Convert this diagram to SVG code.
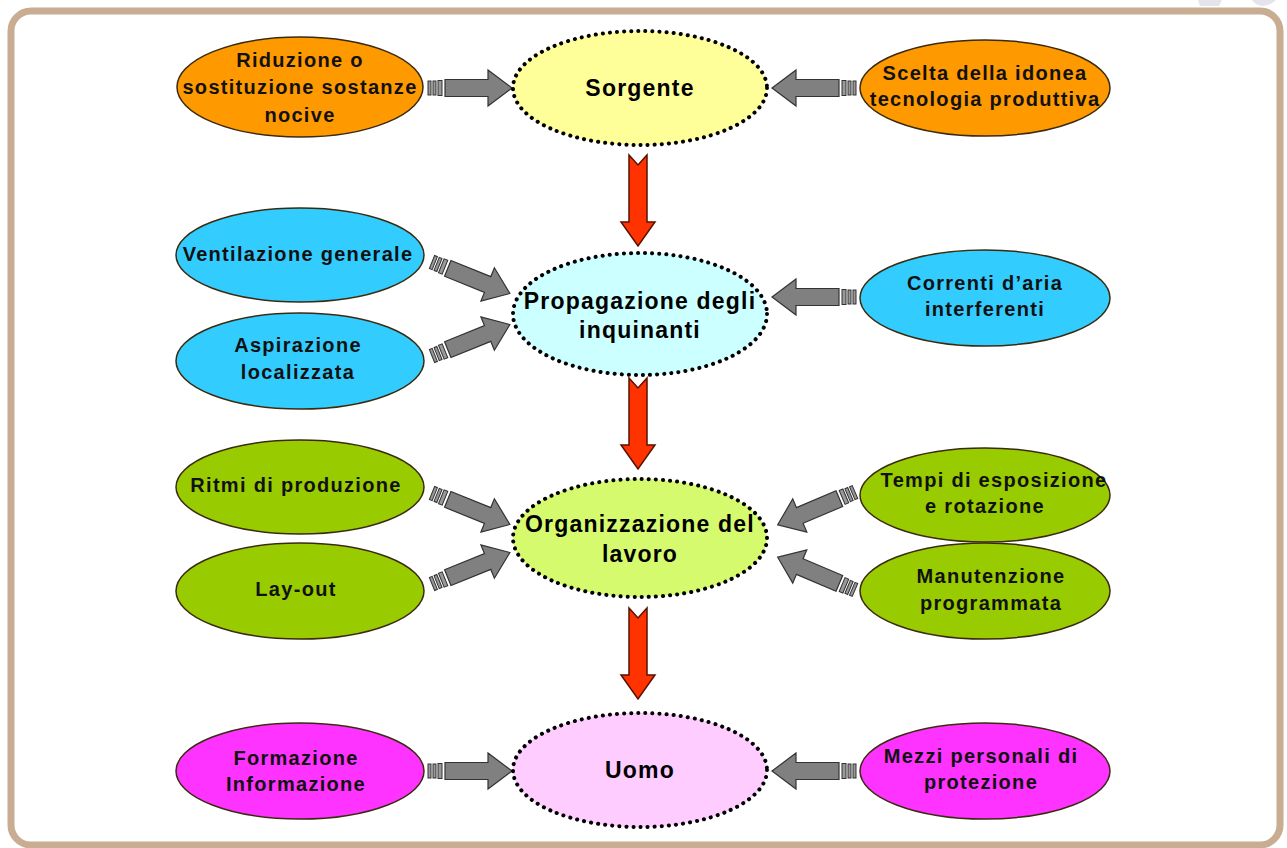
<svg xmlns="http://www.w3.org/2000/svg" xmlns:xlink="http://www.w3.org/1999/xlink" width="1287" height="848" viewBox="0 0 1287 848">
<style>
.t{font-family:"Liberation Sans",Arial,sans-serif;font-weight:bold;font-size:20px;letter-spacing:1.3px;fill:#111;text-anchor:middle}
.c{font-family:"Liberation Sans",Arial,sans-serif;font-weight:bold;font-size:23px;letter-spacing:1.2px;fill:#000;text-anchor:middle}
.side{stroke:#3a2a10;stroke-width:1.5}
.main{stroke:#000;stroke-width:4;stroke-dasharray:0.1 7;stroke-linecap:round}
.red{fill:#ff3300;stroke:#5a1000;stroke-width:1.5}
</style>
<defs>
<g id="garrow">
<rect x="0" y="-7" width="3" height="14" fill="#999" stroke="#333" stroke-width="1"/>
<rect x="5" y="-7" width="3" height="14" fill="#999" stroke="#333" stroke-width="1"/>
<rect x="10" y="-7.5" width="4" height="15" fill="#999" stroke="#333" stroke-width="1"/>
<path d="M17,-8.5 L60,-8.5 L60,-18 L84,0 L60,18 L60,8.5 L17,8.5 Z" fill="#808080" stroke="#333" stroke-width="1.2"/>
</g>
<path id="rarrow" d="M-9,0 L0,10 L9,0 L9,67 L17,67 L0,91 L-17,67 L-9,67 Z"/>
</defs>
<rect x="11" y="11" width="1269" height="834" rx="20" fill="#fff" stroke="#c8ad93" stroke-width="7"/>
<path d="M1198,0 L1222,0 L1219,6 L1200,6 Z M1252,0 L1276,0 Q1270,6 1262,6 Q1255,5 1252,0 Z" fill="#e4e4ea"/>

<g id="connectors">
<use xlink:href="#garrow" transform="translate(428,88)"/>
<use xlink:href="#garrow" transform="translate(856,88) rotate(180)"/>
<use xlink:href="#garrow" transform="translate(432,262) rotate(22)"/>
<use xlink:href="#garrow" transform="translate(432,356) rotate(-22)"/>
<use xlink:href="#garrow" transform="translate(856,297) rotate(180)"/>
<use xlink:href="#garrow" transform="translate(432,493) rotate(22)"/>
<use xlink:href="#garrow" transform="translate(432,584) rotate(-22)"/>
<use xlink:href="#garrow" transform="translate(855,492) rotate(157)"/>
<use xlink:href="#garrow" transform="translate(855,590) rotate(-157)"/>
<use xlink:href="#garrow" transform="translate(428,771)"/>
<use xlink:href="#garrow" transform="translate(856,771) rotate(180)"/>
<use xlink:href="#rarrow" class="red" transform="translate(638,155)"/>
<use xlink:href="#rarrow" class="red" transform="translate(638,378)"/>
<use xlink:href="#rarrow" class="red" transform="translate(638,608)"/>
</g>

<g id="sorgente"><ellipse cx="640" cy="88" rx="127" ry="57" fill="#ffff99" class="main"/><text class="c" x="640" y="96">Sorgente</text></g>
<g id="propagazione"><ellipse cx="640" cy="314" rx="127" ry="61" fill="#ccffff" class="main"/><text class="c" x="640" y="309">Propagazione degli</text><text class="c" x="640" y="338">inquinanti</text></g>
<g id="organizzazione"><ellipse cx="640" cy="538" rx="127" ry="59" fill="#d6fa6e" class="main"/><text class="c" x="640" y="532">Organizzazione del</text><text class="c" x="640" y="562">lavoro</text></g>
<g id="uomo"><ellipse cx="640" cy="770" rx="127" ry="57" fill="#ffccff" class="main"/><text class="c" x="640" y="778">Uomo</text></g>

<g id="riduzione"><ellipse cx="300" cy="87" rx="123" ry="50" fill="#ff9900" class="side"/><text class="t" x="300" y="67">Riduzione o</text><text class="t" x="300" y="94">sostituzione sostanze</text><text class="t" x="300" y="122">nocive</text></g>
<g id="scelta"><ellipse cx="985" cy="88" rx="125" ry="48" fill="#ff9900" class="side"/><text class="t" x="985" y="80">Scelta della idonea</text><text class="t" x="985" y="106">tecnologia produttiva</text></g>
<g id="ventilazione"><ellipse cx="300" cy="255" rx="124" ry="47" fill="#33ccff" class="side"/><text class="t" x="298" y="261">Ventilazione generale</text></g>
<g id="aspirazione"><ellipse cx="300" cy="361" rx="124" ry="48" fill="#33ccff" class="side"/><text class="t" x="298" y="352">Aspirazione</text><text class="t" x="298" y="379">localizzata</text></g>
<g id="correnti"><ellipse cx="985" cy="298" rx="125" ry="48" fill="#33ccff" class="side"/><text class="t" x="985" y="290">Correnti d’aria</text><text class="t" x="985" y="316">interferenti</text></g>
<g id="ritmi"><ellipse cx="300" cy="487" rx="124" ry="47" fill="#99cc00" class="side"/><text class="t" x="296" y="492">Ritmi di produzione</text></g>
<g id="layout"><ellipse cx="300" cy="591" rx="124" ry="48" fill="#99cc00" class="side"/><text class="t" x="296" y="596">Lay-out</text></g>
<g id="tempi"><ellipse cx="985" cy="495" rx="125" ry="47" fill="#99cc00" class="side"/><text class="t" x="994" y="487">Tempi di esposizione</text><text class="t" x="985" y="513">e rotazione</text></g>
<g id="manutenzione"><ellipse cx="985" cy="591" rx="125" ry="48" fill="#99cc00" class="side"/><text class="t" x="991" y="583">Manutenzione</text><text class="t" x="991" y="610">programmata</text></g>
<g id="formazione"><ellipse cx="300" cy="771" rx="124" ry="48" fill="#ff33ff" class="side"/><text class="t" x="296" y="765">Formazione</text><text class="t" x="296" y="791">Informazione</text></g>
<g id="mezzi"><ellipse cx="985" cy="771" rx="125" ry="48" fill="#ff33ff" class="side"/><text class="t" x="981" y="763">Mezzi personali di</text><text class="t" x="981" y="789">protezione</text></g>
</svg>
